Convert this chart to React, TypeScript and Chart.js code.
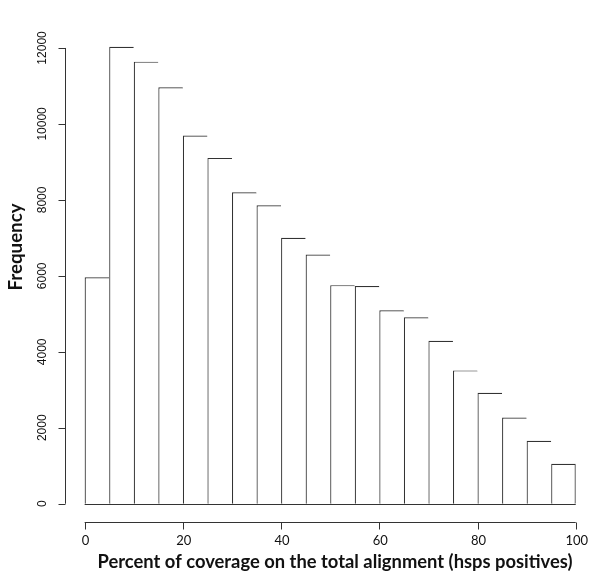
import React, { useEffect, useRef } from "react";
import { Chart, registerables } from "chart.js";

Chart.register(...registerables);

// Histogram bins (left edges), bin width 5
const binStarts = [0, 5, 10, 15, 20, 25, 30, 35, 40, 45, 50, 55, 60, 65, 70, 75, 80, 85, 90, 95];
const binWidth = 5;
const frequencies = [
  5960, 12030, 11640, 10965, 9695, 9105, 8200, 7860, 7000, 6560,
  5755, 5730, 5095, 4910, 4290, 3510, 2920, 2270, 1660, 1050,
];
const xTicks = [0, 20, 40, 60, 80, 100];
const yTicks = [0, 2000, 4000, 6000, 8000, 10000, 12000];
const xTitle = "Percent of coverage on the total alignment (hsps positives)";
const yTitle = "Frequency";

const axisColor = "#333";
const textColor = "#111";

function fitFont(ctx: CanvasRenderingContext2D, text: string, family: string, weight: string, target: number) {
  ctx.font = `${weight} 20px ${family}`;
  const w = ctx.measureText(text).width;
  const size = (20 * target) / w;
  return `${weight} ${size.toFixed(2)}px ${family}`;
}

const axesPlugin = {
  id: "rAxes",
  afterDraw(chart: any) {
    const ctx: CanvasRenderingContext2D = chart.ctx;
    const xs = chart.scales.x;
    const ys = chart.scales.y;
    const area = chart.chartArea;
    ctx.save();
    ctx.strokeStyle = axisColor;
    ctx.lineWidth = 1;

    // Histogram baseline (bottom edges of the bars)
    const baseY = Math.round(ys.getPixelForValue(0)) + 0.5;
    ctx.beginPath();
    ctx.moveTo(xs.getPixelForValue(binStarts[0]), baseY);
    ctx.lineTo(xs.getPixelForValue(binStarts[binStarts.length - 1] + binWidth), baseY);
    ctx.stroke();

    // X axis (detached, at bottom of plot region)
    const xAxisY = Math.round(area.bottom) + 0.5;
    const x0 = xs.getPixelForValue(xTicks[0]);
    const x1 = xs.getPixelForValue(xTicks[xTicks.length - 1]);
    ctx.beginPath();
    ctx.moveTo(x0, xAxisY);
    ctx.lineTo(x1, xAxisY);
    for (const t of xTicks) {
      const px = Math.round(xs.getPixelForValue(t)) + 0.5;
      ctx.moveTo(px, xAxisY);
      ctx.lineTo(px, xAxisY + 7);
    }
    ctx.stroke();

    ctx.fillStyle = textColor;
    ctx.font = "13px Lato";
    ctx.textAlign = "center";
    ctx.textBaseline = "middle";
    for (const t of xTicks) {
      ctx.fillText(String(t), xs.getPixelForValue(t) + 1, 541);
    }

    // Y axis (detached, at left of plot region)
    const yAxisX = Math.round(area.left) + 0.5;
    const yb = ys.getPixelForValue(yTicks[0]);
    const yt = ys.getPixelForValue(yTicks[yTicks.length - 1]);
    ctx.beginPath();
    ctx.moveTo(yAxisX, yb);
    ctx.lineTo(yAxisX, yt);
    for (const t of yTicks) {
      const py = Math.round(ys.getPixelForValue(t)) + 0.5;
      ctx.moveTo(yAxisX, py);
      ctx.lineTo(yAxisX - 7, py);
    }
    ctx.stroke();

    ctx.font = "12px 'Liberation Sans', Arial, sans-serif";
    for (const t of yTicks) {
      ctx.save();
      ctx.translate(42.5, ys.getPixelForValue(t));
      ctx.rotate(-Math.PI / 2);
      ctx.fillText(String(t), 0, 0);
      ctx.restore();
    }

    // Titles
    ctx.font = fitFont(ctx, xTitle, "Lato", "bold", 475);
    ctx.fillText(xTitle, 335, 562);

    ctx.save();
    ctx.font = fitFont(ctx, yTitle, "Lato", "bold", 87);
    ctx.translate(16, 247);
    ctx.rotate(-Math.PI / 2);
    ctx.fillText(yTitle, 0, 0);
    ctx.restore();

    ctx.restore();
  },
};

export default function App() {
  const canvasRef = useRef<HTMLCanvasElement | null>(null);

  useEffect(() => {
    const canvas = canvasRef.current;
    if (!canvas) return;
    const last = frequencies.length - 1;
    const chart = new Chart(canvas, {
      type: "bar",
      data: {
        datasets: [
          {
            data: binStarts.map((b, i) => ({ x: b + binWidth / 2, y: frequencies[i] })),
            backgroundColor: "#ffffff",
            borderColor: axisColor,
            borderSkipped: false,
            borderWidth: (c: any) => ({ left: 1.2, top: 1.2, bottom: 0, right: c.dataIndex === last ? 1.2 : 0 }),
            inflateAmount: 0,
            barPercentage: 1,
            categoryPercentage: 1,
            grouped: false,
          } as any,
        ],
      },
      options: {
        responsive: false,
        animation: false,
        layout: { padding: { left: 65, right: 0, top: 28.7, bottom: 53 } },
        plugins: { legend: { display: false }, tooltip: { enabled: false } },
        scales: {
          x: { type: "linear", min: -4, max: 102.7, offset: false, display: false },
          y: { type: "linear", min: -481, max: 12507, display: false },
        },
      },
      plugins: [axesPlugin],
    });
    return () => chart.destroy();
  }, []);

  return (
    <div style={{ position: "absolute", left: 0, top: 0, width: 589, height: 575, background: "#fff" }}>
      <canvas ref={canvasRef} width={589} height={575} style={{ display: "block" }} />
    </div>
  );
}
